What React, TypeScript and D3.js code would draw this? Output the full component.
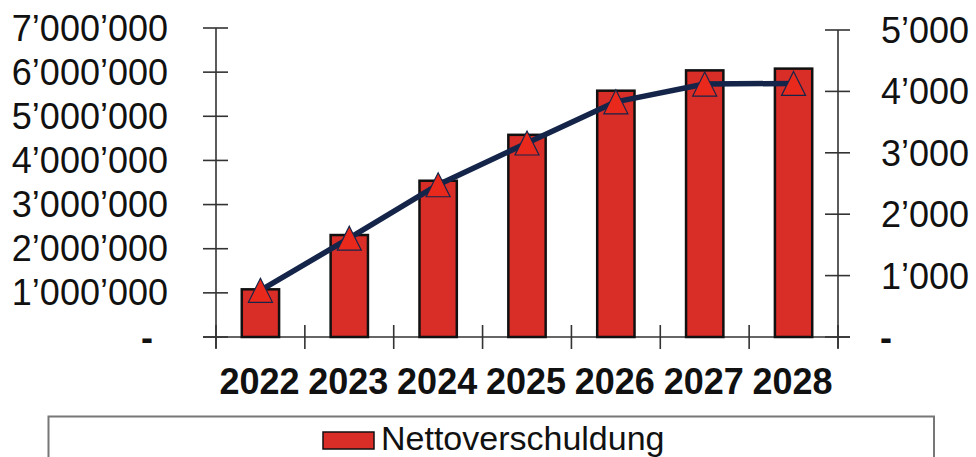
import React from "react";
import * as d3 from "d3";

const years = ["2022", "2023", "2024", "2025", "2026", "2027", "2028"];
const nettoverschuldung = [1080000, 2310000, 3540000, 4580000, 5580000, 6040000, 6080000];
const lineValues = [760, 1610, 2480, 3160, 3830, 4120, 4130];
const leftTicks = [0, 1000000, 2000000, 3000000, 4000000, 5000000, 6000000, 7000000];
const rightTicks = [0, 1000, 2000, 3000, 4000, 5000];
const legendLabel = "Nettoverschuldung";

const W = 976;
const H = 457;
const FONT = "Arial, 'Liberation Sans', Helvetica, sans-serif";

const fmt = (v: number) =>
  v === 0 ? "-" : d3.format(",")(v).replace(/,/g, "\u2019");

export default function App() {
  const x = d3.scaleBand<string>().domain(years).range([216, 838]).paddingInner(0.58).paddingOuter(0.29);
  const yL = d3.scaleLinear().domain([0, 7000000]).range([337, 28]);
  const yR = d3.scaleLinear().domain([0, 5000]).range([337, 30]);
  const step = x.step();
  const cx = (d: string) => (x(d) as number) + x.bandwidth() / 2;

  const line = d3
    .line<number>()
    .x((_, i) => cx(years[i]))
    .y((d) => yR(d));

  const boundaries = d3.range(years.length + 1).map((i) => 216 + i * step);
  const axisColor = "#333";

  return (
    <svg width={W} height={H} style={{ position: "absolute", left: 0, top: 0, background: "#fff" }}>
      {/* axes */}
      <line x1={203} x2={850} y1={337} y2={337} stroke={axisColor} strokeWidth={1.6} />
      <line x1={216} x2={216} y1={28} y2={348} stroke={axisColor} strokeWidth={1.6} />
      <line x1={838} x2={838} y1={30} y2={348} stroke={axisColor} strokeWidth={1.6} />
      {leftTicks.map((t) => (
        <line key={"lt" + t} x1={203} x2={228} y1={yL(t)} y2={yL(t)} stroke={axisColor} strokeWidth={1.6} />
      ))}
      {rightTicks.map((t) => (
        <line key={"rt" + t} x1={825} x2={850} y1={yR(t)} y2={yR(t)} stroke={axisColor} strokeWidth={1.6} />
      ))}
      {boundaries.map((b, i) => (
        <line key={"xb" + i} x1={b} x2={b} y1={325} y2={349} stroke={axisColor} strokeWidth={1.6} />
      ))}
      {/* left labels */}
      {leftTicks.map((t) => (
        <text
          key={"ll" + t}
          x={t === 0 ? 153 : 168}
          y={yL(t) + 12.5}
          textAnchor="end"
          fontFamily={FONT}
          fontSize={36}
          fontWeight={t === 0 ? "bold" : "normal"}
          fill="#111"
        >
          {fmt(t)}
        </text>
      ))}
      {/* right labels */}
      {rightTicks.map((t) => (
        <text
          key={"rl" + t}
          x={t === 0 ? 880 : 881}
          y={yR(t) + 13}
          textAnchor="start"
          fontFamily={FONT}
          fontSize={36}
          fontWeight={t === 0 ? "bold" : "normal"}
          fill="#111"
        >
          {fmt(t)}
        </text>
      ))}
      {/* bars */}
      {years.map((yr, i) => (
        <rect
          key={"b" + yr}
          x={x(yr)}
          y={yL(nettoverschuldung[i])}
          width={x.bandwidth()}
          height={yL(0) - yL(nettoverschuldung[i])}
          fill="#d92d28"
          stroke="#111"
          strokeWidth={2.5}
        />
      ))}
      {/* line */}
      <path d={line(lineValues) || ""} fill="none" stroke="#15254a" strokeWidth={5.5} strokeLinejoin="round" />
      {lineValues.map((v, i) => {
        const px = cx(years[i]);
        const py = yR(v);
        return (
          <path
            key={"m" + i}
            d={`M${px},${py - 12}L${px + 12},${py + 12}L${px - 12},${py + 12}Z`}
            fill="#e8291c"
            stroke="#15254a"
            strokeWidth={1.2}
          />
        );
      })}
      {/* x labels */}
      {years.map((yr) => (
        <text
          key={"xl" + yr}
          x={cx(yr) - 1}
          y={394}
          textAnchor="middle"
          fontFamily={FONT}
          fontSize={36}
          fontWeight="bold"
          fill="#111"
        >
          {yr}
        </text>
      ))}
      {/* legend */}
      <rect x={48.5} y={416.5} width={885.5} height={60} fill="none" stroke="#777" strokeWidth={2} />
      <rect x={323} y={432} width={51} height={17} fill="#d92d28" stroke="#111" strokeWidth={1.5} />
      <text x={381} y={450} fontFamily={FONT} fontSize={34} fill="#111">
        {legendLabel}
      </text>
    </svg>
  );
}
